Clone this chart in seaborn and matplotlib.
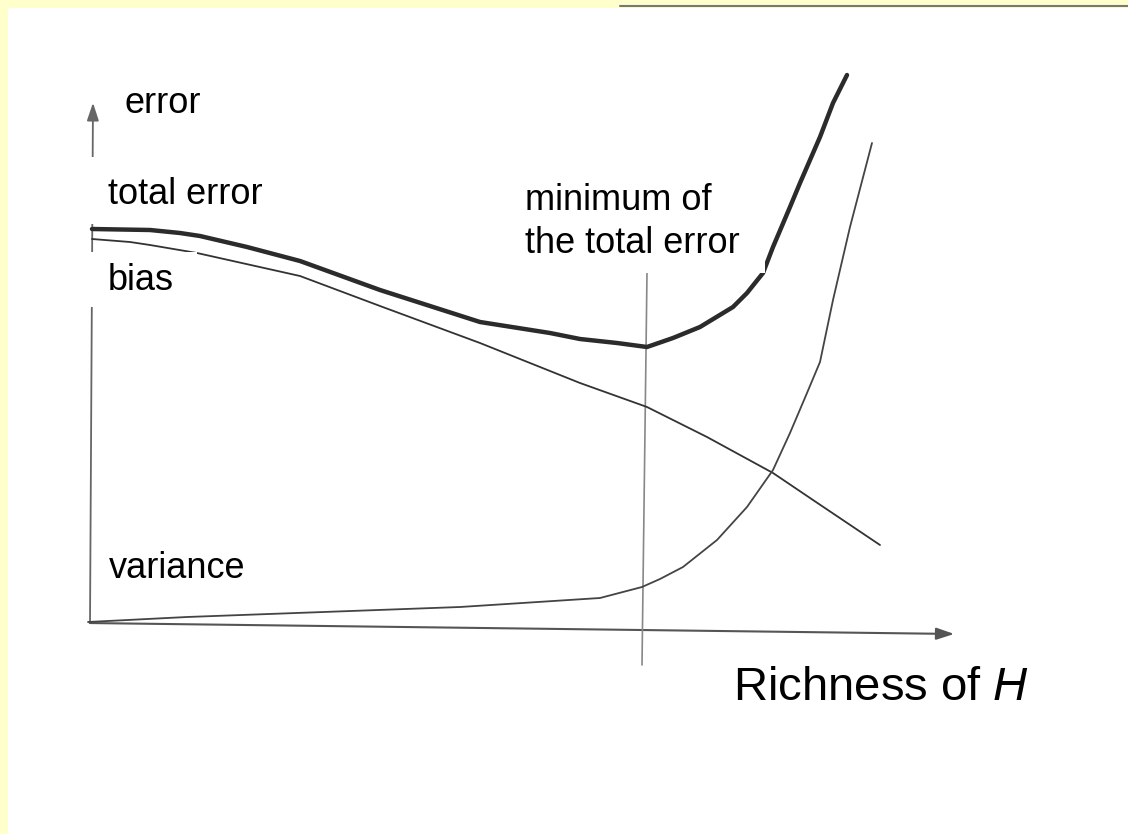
import numpy as np
import pandas as pd
import seaborn as sns
import matplotlib
matplotlib.use("Agg")
import matplotlib.pyplot as plt
from matplotlib.patches import Rectangle

# ---- data (units: richness of H on x, error on y) ----
total_x = [0.04, 0.62, 0.92, 1.12, 1.59, 2.12, 2.92, 3.92, 4.62, 4.92, 5.29, 5.59, 5.85, 6.12,
           6.45, 6.59, 6.75, 6.85, 7.02, 7.12, 7.32, 7.45, 7.59]
total_y = [3.96, 3.95, 3.92, 3.89, 3.78, 3.64, 3.35, 3.03, 2.92, 2.86, 2.82, 2.78, 2.87, 2.98,
           3.18, 3.32, 3.52, 3.78, 4.18, 4.42, 4.88, 5.22, 5.50]

bias_x = [0.04, 0.42, 0.62, 1.09, 2.12, 2.92, 3.92, 4.92, 5.59, 6.19, 6.85, 7.25, 7.92]
bias_y = [3.86, 3.83, 3.80, 3.72, 3.49, 3.19, 2.82, 2.42, 2.18, 1.88, 1.52, 1.25, 0.80]

var_x = [0.00, 0.99, 3.72, 5.12, 5.54, 5.72, 5.95, 6.29, 6.59, 6.85, 7.02, 7.19, 7.32, 7.45, 7.62, 7.84]
var_y = [0.03, 0.08, 0.18, 0.27, 0.38, 0.46, 0.58, 0.85, 1.18, 1.55, 1.92, 2.32, 2.63, 3.25, 3.98, 4.82]

labels = ["error", "total error", "bias", "variance"]
min_label = ["minimum of", "the total error"]
xlabel = "Richness of "

sns.set_theme(style="white")
plt.rcParams['font.family'] = ['Liberation Sans', 'DejaVu Sans']
plt.rcParams['mathtext.fontset'] = 'custom'
plt.rcParams['mathtext.it'] = 'Liberation Sans:italic'
plt.rcParams['mathtext.rm'] = 'Liberation Sans'

W, H = 1128, 834
fig = plt.figure(figsize=(W / 100, H / 100), dpi=100, facecolor="#FFFFCC")

# white page
fig.patches.append(Rectangle((8 / W, 0), 1 - 8 / W, 1 - 8 / H, transform=fig.transFigure,
                             facecolor="white", edgecolor="none", zorder=0))
fig.lines.append(plt.Line2D([620 / W, 1], [1 - 6 / H, 1 - 6 / H], transform=fig.transFigure,
                            color="#777777", lw=1.5, zorder=1))

ax = fig.add_axes([0, 0, 1, 1])
ax.set_zorder(2)
ax.set_facecolor("none")
ax.set_xlim(-0.88, (W - 88) / 100)
ax.set_ylim(-(H - 625) / 100, 6.25)
ax.axis("off")

df_t = pd.DataFrame({"x": total_x, "y": total_y})
df_b = pd.DataFrame({"x": bias_x, "y": bias_y})
df_v = pd.DataFrame({"x": var_x, "y": var_y})
sns.lineplot(data=df_t, x="x", y="y", sort=False, ax=ax, color="#2b2b2b", lw=3.2, zorder=3,
             solid_joinstyle="round", solid_capstyle="round")
sns.lineplot(data=df_b, x="x", y="y", sort=False, ax=ax, color="#333333", lw=1.3, zorder=3,
             solid_joinstyle="round")
sns.lineplot(data=df_v, x="x", y="y", sort=False, ax=ax, color="#444444", lw=1.3, zorder=3,
             solid_joinstyle="round")

# axes arrows
ax.annotate("", xy=(8.69, -0.09), xytext=(-0.01, 0.02),
            arrowprops=dict(arrowstyle="-|>,head_length=0.9,head_width=0.3", color="#555555", lw=1.5), zorder=2)
ax.annotate("", xy=(0.05, 5.25), xytext=(0.02, 0.0),
            arrowprops=dict(arrowstyle="-|>,head_length=0.9,head_width=0.3", color="#666666", lw=1.3), zorder=2)
# vertical line at the minimum
ax.plot([5.59, 5.54], [3.52, -0.40], color="#888888", lw=1.2, zorder=2)

# white label boxes (cover lines like the reference)
def box(x0, y0, x1, y1):
    fig.patches.append(Rectangle((x0 / W, 1 - y1 / H), (x1 - x0) / W, (y1 - y0) / H,
                                 transform=fig.transFigure, facecolor="white",
                                 edgecolor="none", zorder=5))

box(86, 157, 272, 224)
box(86, 252, 197, 307)
box(515, 170, 765, 273)

def txt(x, y, s, size=26, **kw):
    fig.text(x / W, 1 - y / H, s, fontsize=size, color="black", ha="left",
             va="baseline", zorder=10, **kw)

txt(125, 113, labels[0])
txt(108, 204, labels[1])
txt(108, 290, labels[2])
txt(109, 578, labels[3])
txt(525, 210, min_label[0])
txt(525, 253, min_label[1])
txt(733, 700, xlabel + r"$\it{H}$", size=34)

fig.savefig("out.png", dpi=100, facecolor=fig.get_facecolor())
